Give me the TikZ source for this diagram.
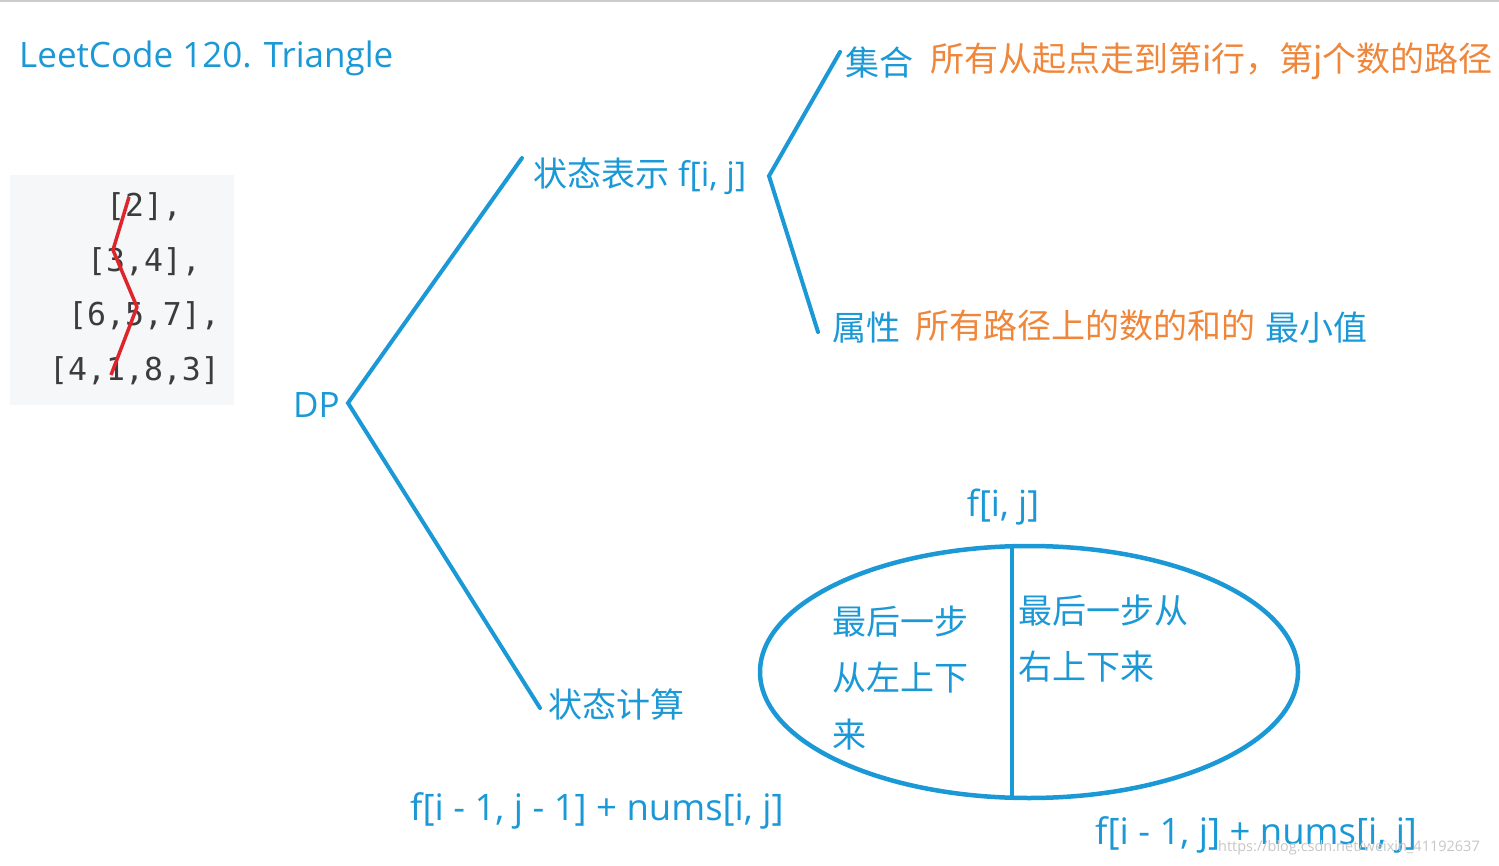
\documentclass[tikz,border=0pt]{standalone}
\usepackage{fontspec}
\setmainfont{Open Sans}
\newfontfamily\cjk{Noto Sans CJK SC}
\newfontfamily\codefont{DejaVu Sans Mono}
\usetikzlibrary{shapes.geometric}

\definecolor{penblue}{RGB}{27,152,214}
\definecolor{noteorange}{RGB}{240,134,58}
\definecolor{pathred}{RGB}{224,36,43}
\definecolor{codebg}{RGB}{246,247,248}
\definecolor{codegray}{RGB}{60,60,60}

\tikzset{
  lbl/.style={text=penblue, inner sep=0pt, font=\fontsize{34}{40}\selectfont},
  cjklbl/.style={lbl, anchor=west, font=\fontsize{34}{40}\selectfont\cjk},
  formula/.style={lbl, anchor=west, font=\fontsize{36.5}{42}\selectfont},
  note/.style={text=noteorange, inner sep=0pt, anchor=west, font=\fontsize{34}{40}\selectfont\cjk},
  brline/.style={draw=penblue, line width=4pt, line cap=round},
  codeline/.style={text=codegray, inner sep=0pt, anchor=west, font=\fontsize{31.5}{36}\selectfont\codefont}
}

\begin{document}
\begin{tikzpicture}[x=1pt, y=-1pt]
        \useasboundingbox (0,0) rectangle (1499,866);
        \fill[white] (0,0) rectangle (1499,866);
        \fill[black!20] (0,0) rectangle (1499,2);

        % Title
        \node[lbl, anchor=west, font=\fontsize{35}{40}\selectfont] (title) at (19,58) {LeetCode 120. Triangle};

        % Input triangle
        \fill[codebg] (10,175) rectangle (234,405);
        \node[codeline] (row1) at (49,207) {\ \ \ [2],};
        \node[codeline] (row2) at (49,262) {\ \ [3,4],};
        \node[codeline] (row3) at (49,316) {\ [6,5,7],};
        \node[codeline] (row4) at (49,371) {[4,1,8,3]};
        \coordinate (p1) at (129,197);
        \coordinate (p2) at (113,250);
        \coordinate (p3) at (137,307);
        \coordinate (p4) at (111,375);
        \draw[pathred, line width=3.5pt, line join=round] (p1) -- (p2) -- (p3) -- (p4);

        % Root
        \node[lbl, anchor=west, font=\fontsize{35}{40}\selectfont] (dp) at (293,405) {DP};
        \coordinate (dpR) at (348,403);
        \coordinate (stateEnd) at (522,158);
        \coordinate (calcEnd) at (540,708);
        \draw[brline] (stateEnd) -- (dpR) -- (calcEnd);

        % State representation
        \node[lbl, anchor=west] (state) at (533,176) {{\cjk 状态表示} f[i, j]};
        \coordinate (stateR) at (769,176);
        \coordinate (setEnd) at (840,52);
        \coordinate (attrEnd) at (818,332);
        \draw[brline] (setEnd) -- (stateR) -- (attrEnd);

        \node[cjklbl] (set) at (845,63) {集合};
        \node[note] (setnote) at (930,61) {所有从起点走到第i行，第j个数的路径};
        \node[cjklbl] (attr) at (832,328) {属性};
        \node[note] (attrnote) at (915,326) {所有路径上的数的和的};
        \node[cjklbl] (attrmin) at (1265,328) {最小值};

        % State computation
        \node[cjklbl] (calc) at (548,705) {状态计算};

        \node[draw=penblue, line width=4.5pt, ellipse, minimum width=538pt, minimum height=252pt, inner sep=0pt] (split) at (1029,672) {};
        \coordinate (splitTop) at (1012,546);
        \coordinate (splitBot) at (1012,798);
        \draw[draw=penblue, line width=4.5pt] (splitTop) -- (splitBot);
        \node[lbl, anchor=south, font=\fontsize{36}{40}\selectfont] (fij) at (1003,525) {f[i, j]};

        \node[cjklbl] (left1) at (832,622) {最后一步};
        \node[cjklbl] (left2) at (832,678) {从左上下};
        \node[cjklbl] (left3) at (832,735) {来};
        \node[cjklbl] (right1) at (1018,611) {最后一步从};
        \node[cjklbl] (right2) at (1018,667) {右上下来};

        \node[formula] (fromLeft) at (410,811) {f[i - 1, j - 1] + nums[i, j]};
        \node[formula] (fromRight) at (1095,835) {f[i - 1, j] + nums[i, j]};

        % watermark
        \node[text=black!22, anchor=west, inner sep=0pt, font=\fontsize{14.5}{17}\selectfont] (mark) at (1218,848) {https://blog.csdn.net/weixin\_41192637};
\end{tikzpicture}
\end{document}
